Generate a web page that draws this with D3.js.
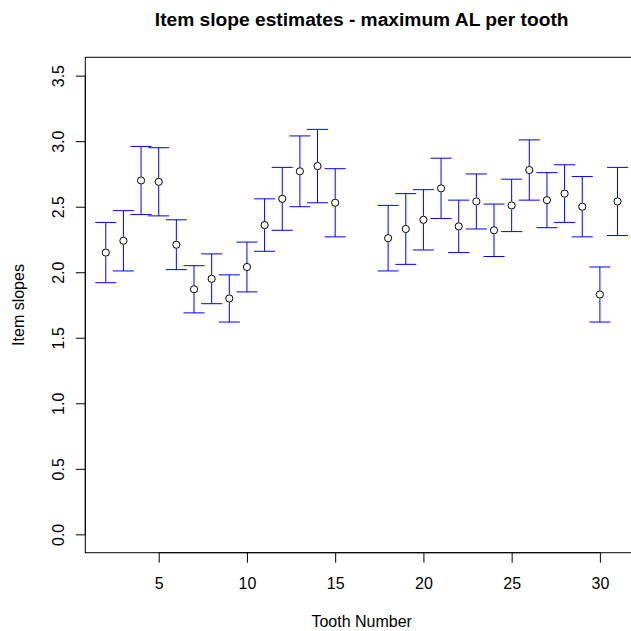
<!DOCTYPE html>
<html>
<head>
<meta charset="utf-8">
<script src="https://cdn.jsdelivr.net/npm/d3@7"></script>
<style>
  html, body { margin: 0; padding: 0; background: #fff; }
  svg { display: block; font-family: "Liberation Sans", Arial, Helvetica, sans-serif; }
</style>
</head>
<body>
<svg id="chart" width="631" height="631"></svg>
<script>
// Tooth numbers with estimated item slopes and their interval bounds
const teeth = [2, 3, 4, 5, 6, 7, 8, 9, 10, 11, 12, 13, 14, 15,
               18, 19, 20, 21, 22, 23, 24, 25, 26, 27, 28, 29, 30, 31];
const slopes = [2.15, 2.24, 2.70, 2.69, 2.21, 1.87, 1.95, 1.80, 2.04, 2.36, 2.56, 2.77, 2.81, 2.53,
                2.26, 2.33, 2.40, 2.64, 2.35, 2.54, 2.32, 2.51, 2.78, 2.55, 2.60, 2.50, 1.83, 2.54];
const lower  = [1.92, 2.01, 2.44, 2.43, 2.02, 1.69, 1.76, 1.62, 1.85, 2.16, 2.32, 2.50, 2.53, 2.27,
                2.01, 2.06, 2.17, 2.41, 2.15, 2.33, 2.12, 2.31, 2.55, 2.34, 2.38, 2.27, 1.62, 2.28];
const upper  = [2.38, 2.47, 2.96, 2.95, 2.40, 2.05, 2.14, 1.98, 2.23, 2.56, 2.80, 3.04, 3.09, 2.79,
                2.51, 2.60, 2.63, 2.87, 2.55, 2.75, 2.52, 2.71, 3.01, 2.76, 2.82, 2.73, 2.04, 2.80];
const xTicks = [5, 10, 15, 20, 25, 30];
const yTicks = [0, 0.5, 1, 1.5, 2, 2.5, 3, 3.5];

const titleText = "Item slope estimates - maximum AL per tooth";
const xLabel = "Tooth Number";
const yLabel = "Item slopes";

const rows = teeth.map((t, i) => ({ t, est: slopes[i], lo: lower[i], hi: upper[i] }));

const svg = d3.select("#chart");
const plot = { left: 85.3, right: 638, top: 57.3, bottom: 552.7 };

// Axis ranges padded by 4% on each side of the data span
const xMin = d3.min(teeth), xMax = d3.max(teeth);
const xPad = (xMax - xMin) * 0.04;
const x = d3.scaleLinear().domain([xMin - xPad, xMax + xPad]).range([plot.left, plot.right]);
const yPad = 3.5 * 0.04;
const y = d3.scaleLinear().domain([0 - yPad, 3.5 + yPad]).range([plot.bottom, plot.top]);

// Frame around the plotting region
svg.append("rect")
  .attr("x", plot.left).attr("y", plot.top)
  .attr("width", plot.right - plot.left).attr("height", plot.bottom - plot.top)
  .attr("fill", "none").attr("stroke", "#000").attr("stroke-width", 1);

// X axis
const xAxis = svg.append("g")
  .attr("transform", `translate(0,${plot.bottom})`)
  .call(d3.axisBottom(x).tickValues(xTicks).tickSize(10).tickPadding(14.6).tickFormat(d3.format("d")));
xAxis.select(".domain").attr("d", `M${x(xTicks[0])},0H${x(xTicks[xTicks.length - 1])}`);
xAxis.selectAll("text").attr("font-size", 16).attr("fill", "#000")
  .attr("font-family", "'Liberation Sans', Arial, sans-serif");
xAxis.selectAll("line").attr("stroke", "#000");

// Y axis with labels turned to read upward
const yAxis = svg.append("g")
  .attr("transform", `translate(${plot.left},0)`)
  .call(d3.axisLeft(y).tickValues(yTicks).tickSize(9.5).tickFormat(d3.format(".1f")));
yAxis.select(".domain").attr("d", `M0,${y(yTicks[0])}V${y(yTicks[yTicks.length - 1])}`);
yAxis.selectAll("line").attr("stroke", "#000");
yAxis.selectAll("text")
  .attr("x", null).attr("dy", null)
  .attr("transform", "translate(-21.3,0) rotate(-90)")
  .attr("text-anchor", "middle")
  .attr("font-size", 16).attr("fill", "#000")
  .attr("font-family", "'Liberation Sans', Arial, sans-serif");

// Interval bars, gapped around each point
const gap = 4, cap = 10.5;
const bars = svg.append("g").attr("stroke", "#0000ff").attr("stroke-width", 1).attr("fill", "none");
rows.forEach(d => {
  const cx = x(d.t), cy = y(d.est), yl = y(d.lo), yh = y(d.hi);
  bars.append("line").attr("x1", cx).attr("x2", cx).attr("y1", yh).attr("y2", cy - gap);
  bars.append("line").attr("x1", cx).attr("x2", cx).attr("y1", cy + gap).attr("y2", yl);
  bars.append("line").attr("x1", cx - cap).attr("x2", cx + cap).attr("y1", yh).attr("y2", yh);
  bars.append("line").attr("x1", cx - cap).attr("x2", cx + cap).attr("y1", yl).attr("y2", yl);
});

// Point estimates as open circles
svg.append("g").selectAll("circle").data(rows).join("circle")
  .attr("cx", d => x(d.t)).attr("cy", d => y(d.est)).attr("r", 3.6)
  .attr("fill", "none").attr("stroke", "#000").attr("stroke-width", 1);

// Title and axis titles
svg.append("text").attr("x", (plot.left + plot.right) / 2).attr("y", 26)
  .attr("text-anchor", "middle").attr("font-size", 19.2).attr("font-weight", "bold")
  .text(titleText);
svg.append("text").attr("x", (plot.left + plot.right) / 2).attr("y", 626.7)
  .attr("text-anchor", "middle").attr("font-size", 16).text(xLabel);
svg.append("text")
  .attr("transform", `translate(24,${(plot.top + plot.bottom) / 2}) rotate(-90)`)
  .attr("text-anchor", "middle").attr("font-size", 16).text(yLabel);
</script>
</body>
</html>
